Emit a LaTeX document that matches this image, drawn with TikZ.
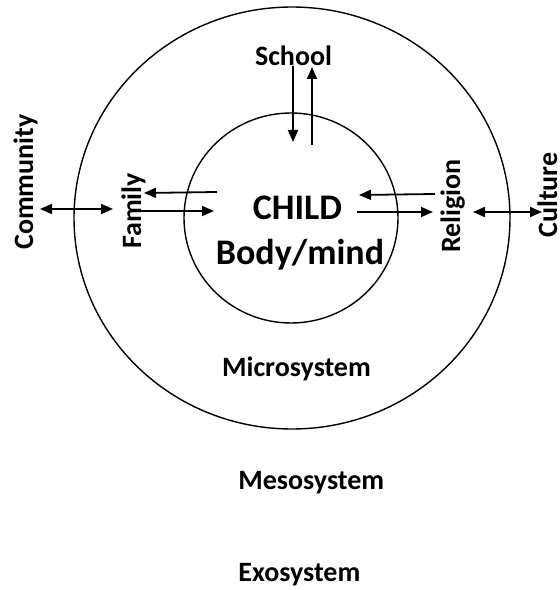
\documentclass[tikz,border=0pt]{standalone}
\usepackage{fontspec}
\setmainfont{Carlito}
\usetikzlibrary{arrows.meta}

\begin{document}
\begin{tikzpicture}[x=0.5pt, y=0.5pt,
  >={Triangle[length=6pt,width=5pt]},
  flow/.style={->, line width=0.9pt},
  both/.style={<->, line width=0.9pt},
  systext/.style={font=\fontsize{14}{16}\selectfont\bfseries, inner sep=0pt},
  sidetext/.style={systext, rotate=90, anchor=base},
  childtext/.style={font=\fontsize{18}{20}\selectfont\bfseries, inner sep=0pt, anchor=base}]
  \useasboundingbox (0,0) rectangle (559,590);

  % the two systems
  \draw[line width=0.7pt] (292,372) ellipse [x radius=218, y radius=211];
  \draw[line width=0.7pt] (291,372) ellipse [x radius=107, y radius=105];

  % texts
  \node[childtext] (child) at (297.5,370) {CHILD};
  \node[childtext] (body) at (300,325) {Body/mind};
  \node[systext, anchor=base] (school) at (293.5,524) {School};
  \node[systext, anchor=base] (micro) at (296.5,213) {Microsystem};
  \node[systext, anchor=base west] (meso) at (238,100) {Mesosystem};
  \node[systext, anchor=base west] (exo) at (238,9) {Exosystem};
  \node[sidetext] (community) at (33,408) {Community};
  \node[sidetext] (family) at (141,379) {Family};
  \node[sidetext] (religion) at (460,384) {Religion};
  \node[sidetext] (culture) at (557,395) {Culture};

  % arrow ends
  \coordinate (comL) at (40,381);
  \coordinate (comR) at (113,381);
  \coordinate (famA) at (217,398);
  \coordinate (famB) at (144,397);
  \coordinate (famC) at (141,379);
  \coordinate (famD) at (214,379);
  \coordinate (relA) at (435,396);
  \coordinate (relB) at (359,395);
  \coordinate (relC) at (357,378);
  \coordinate (relD) at (433,378);
  \coordinate (culL) at (473,378);
  \coordinate (culR) at (542,378);
  \coordinate (schA) at (293,524);
  \coordinate (schB) at (293,448);
  \coordinate (schC) at (312,445);
  \coordinate (schD) at (312,523);

  \draw[both] (comL) -- (comR);
  \draw[flow] (famA) -- (famB);
  \draw[flow] (famC) -- (famD);
  \draw[flow] (relA) -- (relB);
  \draw[flow] (relC) -- (relD);
  \draw[both] (culL) -- (culR);
  \draw[flow] (schA) -- (schB);
  \draw[flow] (schC) -- (schD);
\end{tikzpicture}
\end{document}
